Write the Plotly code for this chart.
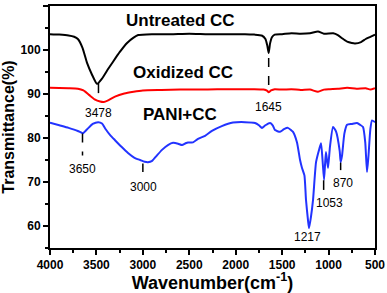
import plotly.graph_objects as go

# Untreated CC
w_untreated = [4000, 3900, 3800, 3740, 3700, 3650, 3600, 3550, 3494, 3440, 3380, 3332, 3250, 3170, 3100, 3050,
               2900, 2700, 2500, 2300, 2100, 1900, 1800, 1720, 1680, 1660, 1645, 1630, 1610, 1580, 1500, 1400,
               1300, 1200, 1114, 1050, 950, 900, 850, 800, 750, 715, 650, 600, 550, 500]
t_untreated = [103.6, 103.5, 103.3, 103.0, 102.5, 100.5, 97.0, 94.5, 92.3, 93.5, 95.5, 97.0, 99.5, 101.6, 102.8, 103.4,
               103.6, 103.6, 103.7, 103.6, 103.6, 103.6, 103.5, 103.3, 102.5, 101.0, 99.3, 101.5, 102.9, 103.5, 103.6, 103.8,
               103.7, 103.8, 104.2, 103.7, 103.8, 103.4, 102.6, 101.9, 101.6, 101.5, 101.8, 102.5, 103.0, 103.5]

# Oxidized CC
w_oxidized = [4000, 3800, 3700, 3640, 3580, 3520, 3460, 3420, 3380, 3300, 3200, 3100, 3000, 2800, 2600, 2400,
              2200, 2000, 1800, 1700, 1660, 1645, 1620, 1580, 1500, 1400, 1300, 1200, 1114, 1050, 1000, 900,
              800, 700, 600, 550, 500]
t_oxidized = [91.4, 91.3, 91.2, 90.8, 89.8, 88.8, 88.3, 88.2, 88.5, 89.4, 90.1, 90.5, 90.8, 90.9, 91.0, 91.0,
              91.1, 91.1, 91.1, 91.0, 90.7, 90.4, 90.8, 91.1, 91.0, 91.1, 90.9, 91.0, 90.5, 91.0, 91.1, 91.2,
              91.4, 91.2, 91.3, 91.0, 91.3]

# PANI+CC
w_pani = [4000, 3900, 3800, 3700, 3645, 3600, 3540, 3480, 3440, 3400, 3350, 3300, 3230, 3160, 3090, 3030,
          2980, 2945, 2900, 2850, 2794, 2730, 2675, 2620, 2578, 2540, 2513, 2460, 2406, 2330, 2256, 2150,
          2029, 1900, 1792, 1750, 1717, 1680, 1630, 1600, 1577, 1523, 1480, 1437, 1400, 1383, 1340, 1307,
          1286, 1260, 1243, 1220, 1210, 1190, 1167, 1135, 1100, 1081, 1065, 1049, 1038, 1028, 1006, 985,
          952, 920, 880, 870, 855, 830, 801, 750, 694, 660, 629, 605, 586, 570, 550, 532, 500]
t_pani = [83.5, 82.9, 82.3, 81.6, 81.1, 82.0, 83.2, 83.6, 83.3, 82.0, 80.6, 79.5, 78.0, 76.6, 75.5, 75.0,
          74.6, 74.5, 74.8, 76.0, 77.3, 78.4, 78.9, 78.7, 78.4, 78.8, 79.0, 79.0, 79.8, 80.5, 81.6, 82.7,
          83.5, 83.6, 83.4, 82.9, 82.3, 82.9, 83.4, 82.8, 81.8, 81.4, 82.0, 82.3, 81.7, 81.4, 79.0, 75.0,
          73.2, 71.5, 65.9, 61.0, 59.5, 62.0, 66.0, 74.5, 77.5, 78.8, 75.0, 70.5, 74.0, 76.8, 73.2, 78.0,
          82.5, 81.5, 77.0, 74.5, 76.0, 81.0, 83.0, 83.2, 83.4, 83.0, 82.5, 79.0, 72.3, 76.0, 82.0, 84.0, 83.6]

series_names = ["Untreated CC", "Oxidized CC", "PANI+CC"]
series_colors = ["#000000", "#ff0000", "#2233ff"]

x_tickvals = [4000, 3500, 3000, 2500, 2000, 1500, 1000, 500]
y_tickvals = [60, 70, 80, 90, 100, 110]

# peak labels: (wavenumber, line y0, line y1, text x, text y, label, dashed)
peaks = [
    (3478, 92.5, 90.2, 3478, 85.6, "3478", False),
    (1645, 98.2, 90.5, 1645, 87.0, "1645", True),
    (3650, 81.0, 76.0, 3650, 73.0, "3650", True),
    (3000, 74.2, 72.3, 2988, 68.9, "3000", False),
    (1217, None, None, 1232, 57.5, "1217", False),
    (1053, 70.4, 68.2, 995, 65.2, "1053", False),
    (870, 74.4, 72.7, 844, 69.8, "870", False),
]

fig = go.Figure()
for w, t, name, col in zip([w_untreated, w_oxidized, w_pani],
                           [t_untreated, t_oxidized, t_pani], series_names, series_colors):
    fig.add_trace(go.Scatter(x=w, y=t, mode="lines", name=name,
                             line=dict(color=col, width=2, shape="spline", smoothing=0.5)))

for (wx, y0, y1, tx, ty, lab, dashed) in peaks:
    if y0 is not None:
        fig.add_shape(type="line", x0=wx, x1=wx, y0=y0, y1=y1, xref="x", yref="y",
                      line=dict(color="black", width=1.5, dash="dash" if dashed else "solid"))
    fig.add_annotation(x=tx, y=ty, text=lab, showarrow=False, xref="x", yref="y",
                       font=dict(family="Arial", size=12, color="black"))

big_labels = [(2600, 106.6, "Untreated CC"), (2568, 95.0, "Oxidized CC"), (2600, 85.4, "PANI+CC")]
for (tx, ty, lab) in big_labels:
    fig.add_annotation(x=tx, y=ty, text="<b>" + lab + "</b>", showarrow=False, xref="x", yref="y",
                       font=dict(family="Arial", size=17, color="black"))

axis_common = dict(showline=True, linecolor="black", linewidth=2, mirror=True, ticks="outside",
                   tickcolor="black", tickwidth=1.5, ticklen=5, showgrid=False, zeroline=False,
                   automargin=False,
                   tickfont=dict(family="Arial", size=12, color="black", weight="bold"))

fig.update_xaxes(range=[4000, 500], tickvals=x_tickvals,
                 minor=dict(dtick=250, ticklen=3, tickcolor="black", tickwidth=1.5, ticks="outside"),
                 title=dict(text="<b>Wavenumber(cm<sup>-1</sup>)</b>", font=dict(family="Arial", size=18, color="black"),
                            standoff=0),
                 **axis_common)
fig.update_yaxes(range=[55, 110], tickvals=y_tickvals,
                 minor=dict(dtick=5, ticklen=3, tickcolor="black", tickwidth=1.5, ticks="outside"),
                 title=dict(text="<b>Transmittance(%)</b>", font=dict(family="Arial", size=16, color="black"),
                            standoff=4),
                 **axis_common)

fig.update_layout(width=387, height=293, margin=dict(l=50, r=12, t=6, b=45),
                  paper_bgcolor="white", plot_bgcolor="white", showlegend=False)

fig.write_html("out.html", config={"displayModeBar": False},
               post_script="document.body.style.margin='0';document.body.style.overflow='hidden';")
